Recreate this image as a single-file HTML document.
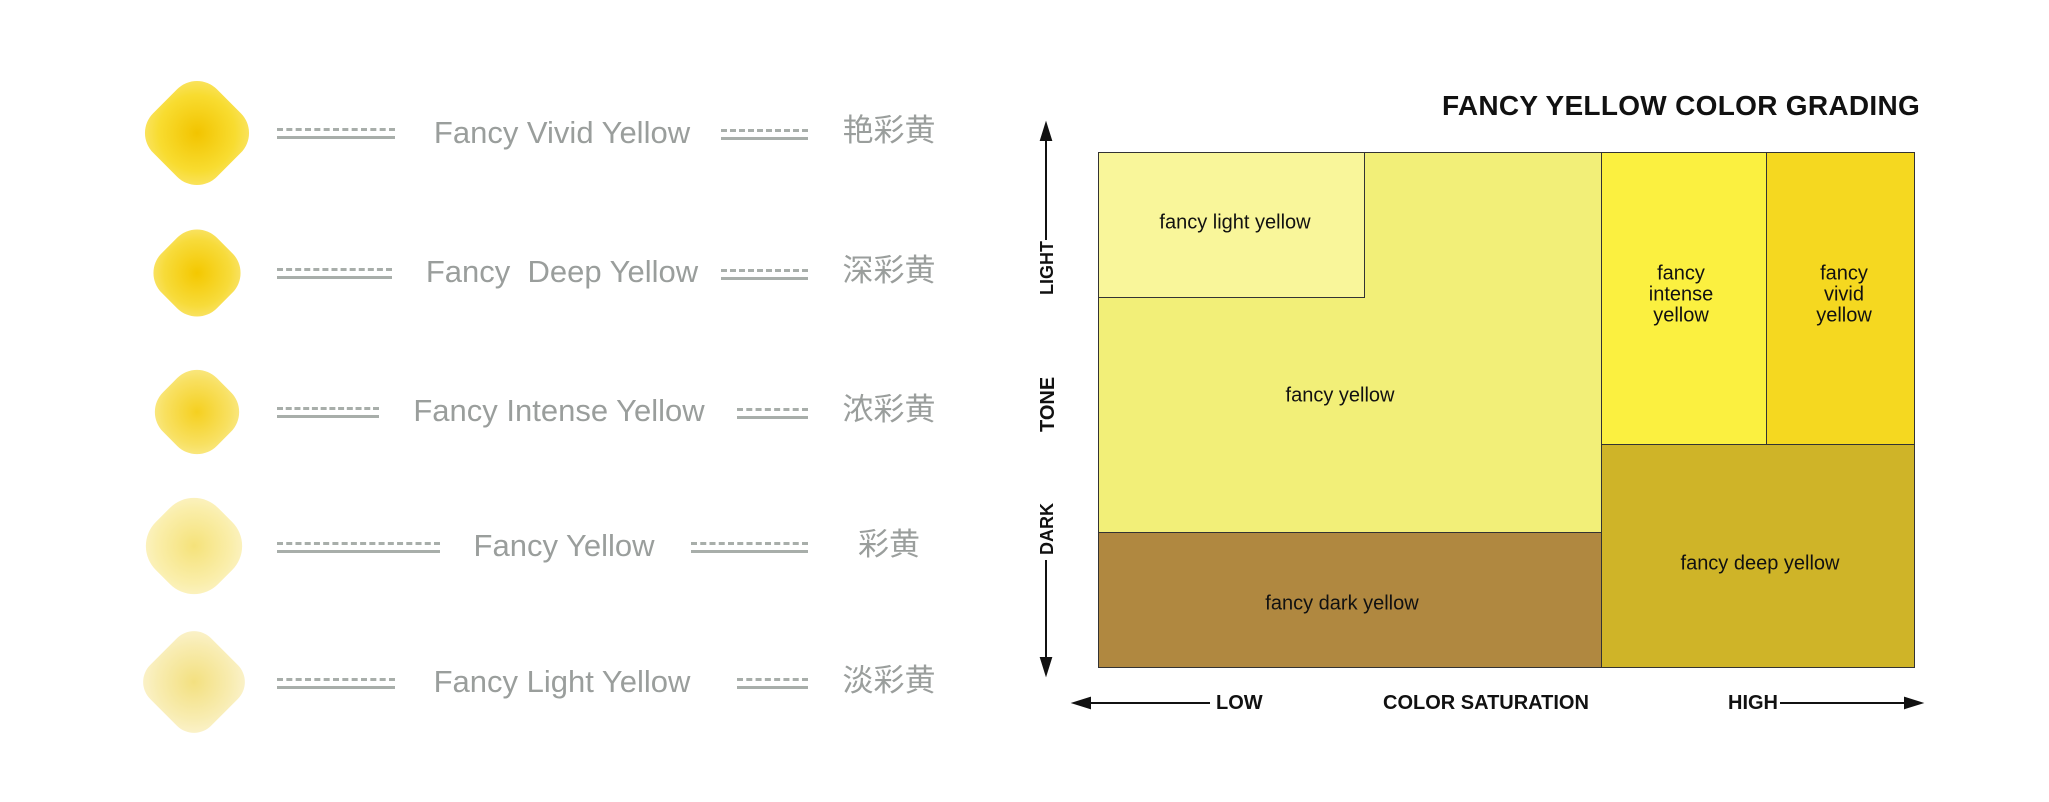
<!DOCTYPE html>
<html><head><meta charset="utf-8"><style>
body{margin:0;width:2049px;height:802px;background:#fff;position:relative;overflow:hidden;font-family:"Liberation Sans","Noto Sans CJK SC",sans-serif}
.a{position:absolute}
.d{position:absolute;height:5px;border-top:3px dashed #a8aeaa;border-bottom:3px solid #a8aeaa}
.t{position:absolute;color:#9a9e9c;font-size:31px;transform:translateX(-50%);white-space:pre;line-height:36px}
.c{position:absolute;color:#9a9e9c;font-size:31px;transform:translateX(-50%);line-height:36px}
.gem{position:absolute;width:96px;height:96px;border-radius:28px;transform:translate(-50%,-50%) rotate(45deg)}
.b{position:absolute;border:1.5px solid #333;box-sizing:border-box}
.l{position:absolute;font-size:20px;color:#111;text-align:center;line-height:21px;transform:translate(-50%,-50%)}
.ax{position:absolute;font-weight:bold;font-size:20px;color:#111}
</style></head><body>
<div class="gem" style="left:197px;top:133px;background:radial-gradient(#f2c400,#f8dc30 60%,#fbe880);width:90px;height:90px"></div>
<div class="gem" style="left:197px;top:273px;background:radial-gradient(#f4c800,#f7db3a 60%,#fbe98a);width:78px;height:78px"></div>
<div class="gem" style="left:197px;top:412px;background:radial-gradient(#f5d020,#f8e060 60%,#fbee9e);width:76px;height:76px"></div>
<div class="gem" style="left:194px;top:546px;background:radial-gradient(#f5e27a,#faeeaa 60%,#fdf6d6);width:88px;height:88px;border-radius:34px"></div>
<div class="gem" style="left:194px;top:682px;background:radial-gradient(#f3e080,#f8ecb0 60%,#fcf5d8);width:86px;height:86px;border-radius:24px"></div>

<div class="d" style="left:277px;width:118px;top:128px"></div><div class="t" style="left:562px;top:115px">Fancy Vivid Yellow</div><div class="d" style="left:721px;width:87px;top:129px"></div><div class="c" style="left:889px;top:113px">艳彩黄</div>
<div class="d" style="left:277px;width:115px;top:268px"></div><div class="t" style="left:562px;top:254px">Fancy  Deep Yellow</div><div class="d" style="left:721px;width:87px;top:269px"></div><div class="c" style="left:889px;top:253px">深彩黄</div>
<div class="d" style="left:277px;width:102px;top:407px"></div><div class="t" style="left:559px;top:393px">Fancy Intense Yellow</div><div class="d" style="left:737px;width:71px;top:408px"></div><div class="c" style="left:889px;top:392px">浓彩黄</div>
<div class="d" style="left:277px;width:163px;top:542px"></div><div class="t" style="left:564px;top:528px">Fancy Yellow</div><div class="d" style="left:691px;width:117px;top:542px"></div><div class="c" style="left:889px;top:527px">彩黄</div>
<div class="d" style="left:277px;width:118px;top:678px"></div><div class="t" style="left:562px;top:664px">Fancy Light Yellow</div><div class="d" style="left:737px;width:71px;top:678px"></div><div class="c" style="left:889px;top:663px">淡彩黄</div>

<div class="ax" style="left:1442px;top:90px;font-size:28px;letter-spacing:0.3px">FANCY YELLOW COLOR GRADING</div>
<div class="b" style="left:1098px;top:152px;width:505px;height:382px;background:#f2ef78"></div>
<div class="b" style="left:1098px;top:152px;width:267px;height:146px;background:#f9f69a"></div>
<div class="b" style="left:1098px;top:532px;width:505px;height:136px;background:#b08840"></div>
<div class="b" style="left:1601px;top:152px;width:167px;height:294px;background:#fbf040"></div>
<div class="b" style="left:1766px;top:152px;width:149px;height:294px;background:#f5d820"></div>
<div class="b" style="left:1601px;top:444px;width:314px;height:224px;background:#cfb428"></div>
<div class="l" style="left:1235px;top:223px">fancy light yellow</div>
<div class="l" style="left:1340px;top:396px">fancy yellow</div>
<div class="l" style="left:1342px;top:604px">fancy dark yellow</div>
<div class="l" style="left:1681px;top:295px">fancy<br>intense<br>yellow</div>
<div class="l" style="left:1844px;top:295px">fancy<br>vivid<br>yellow</div>
<div class="l" style="left:1760px;top:564px">fancy deep yellow</div>

<svg class="a" style="left:0;top:0" width="2049" height="802">
<g stroke="#111" stroke-width="2" fill="#111">
<line x1="1046" y1="130" x2="1046" y2="240"/><line x1="1046" y1="560" x2="1046" y2="668"/>
<polygon points="1041,140 1046,124 1051,140"/><polygon points="1041,658 1046,674 1051,658"/>
<line x1="1080" y1="703" x2="1210" y2="703"/><line x1="1780" y1="703" x2="1915" y2="703"/>
<polygon points="1090,698 1074,703 1090,708"/><polygon points="1905,698 1921,703 1905,708"/>
</g>
<g font-family="Liberation Sans" font-weight="bold" font-size="18" fill="#111">
<text transform="translate(1053,295) rotate(-90)">LIGHT</text>
<text transform="translate(1054,432) rotate(-90)" font-size="20">TONE</text>
<text transform="translate(1053,555) rotate(-90)">DARK</text>
</g>
</svg>
<div class="ax" style="left:1216px;top:692px">LOW</div>
<div class="ax" style="left:1383px;top:692px">COLOR SATURATION</div>
<div class="ax" style="left:1728px;top:692px">HIGH</div>
</body></html>
